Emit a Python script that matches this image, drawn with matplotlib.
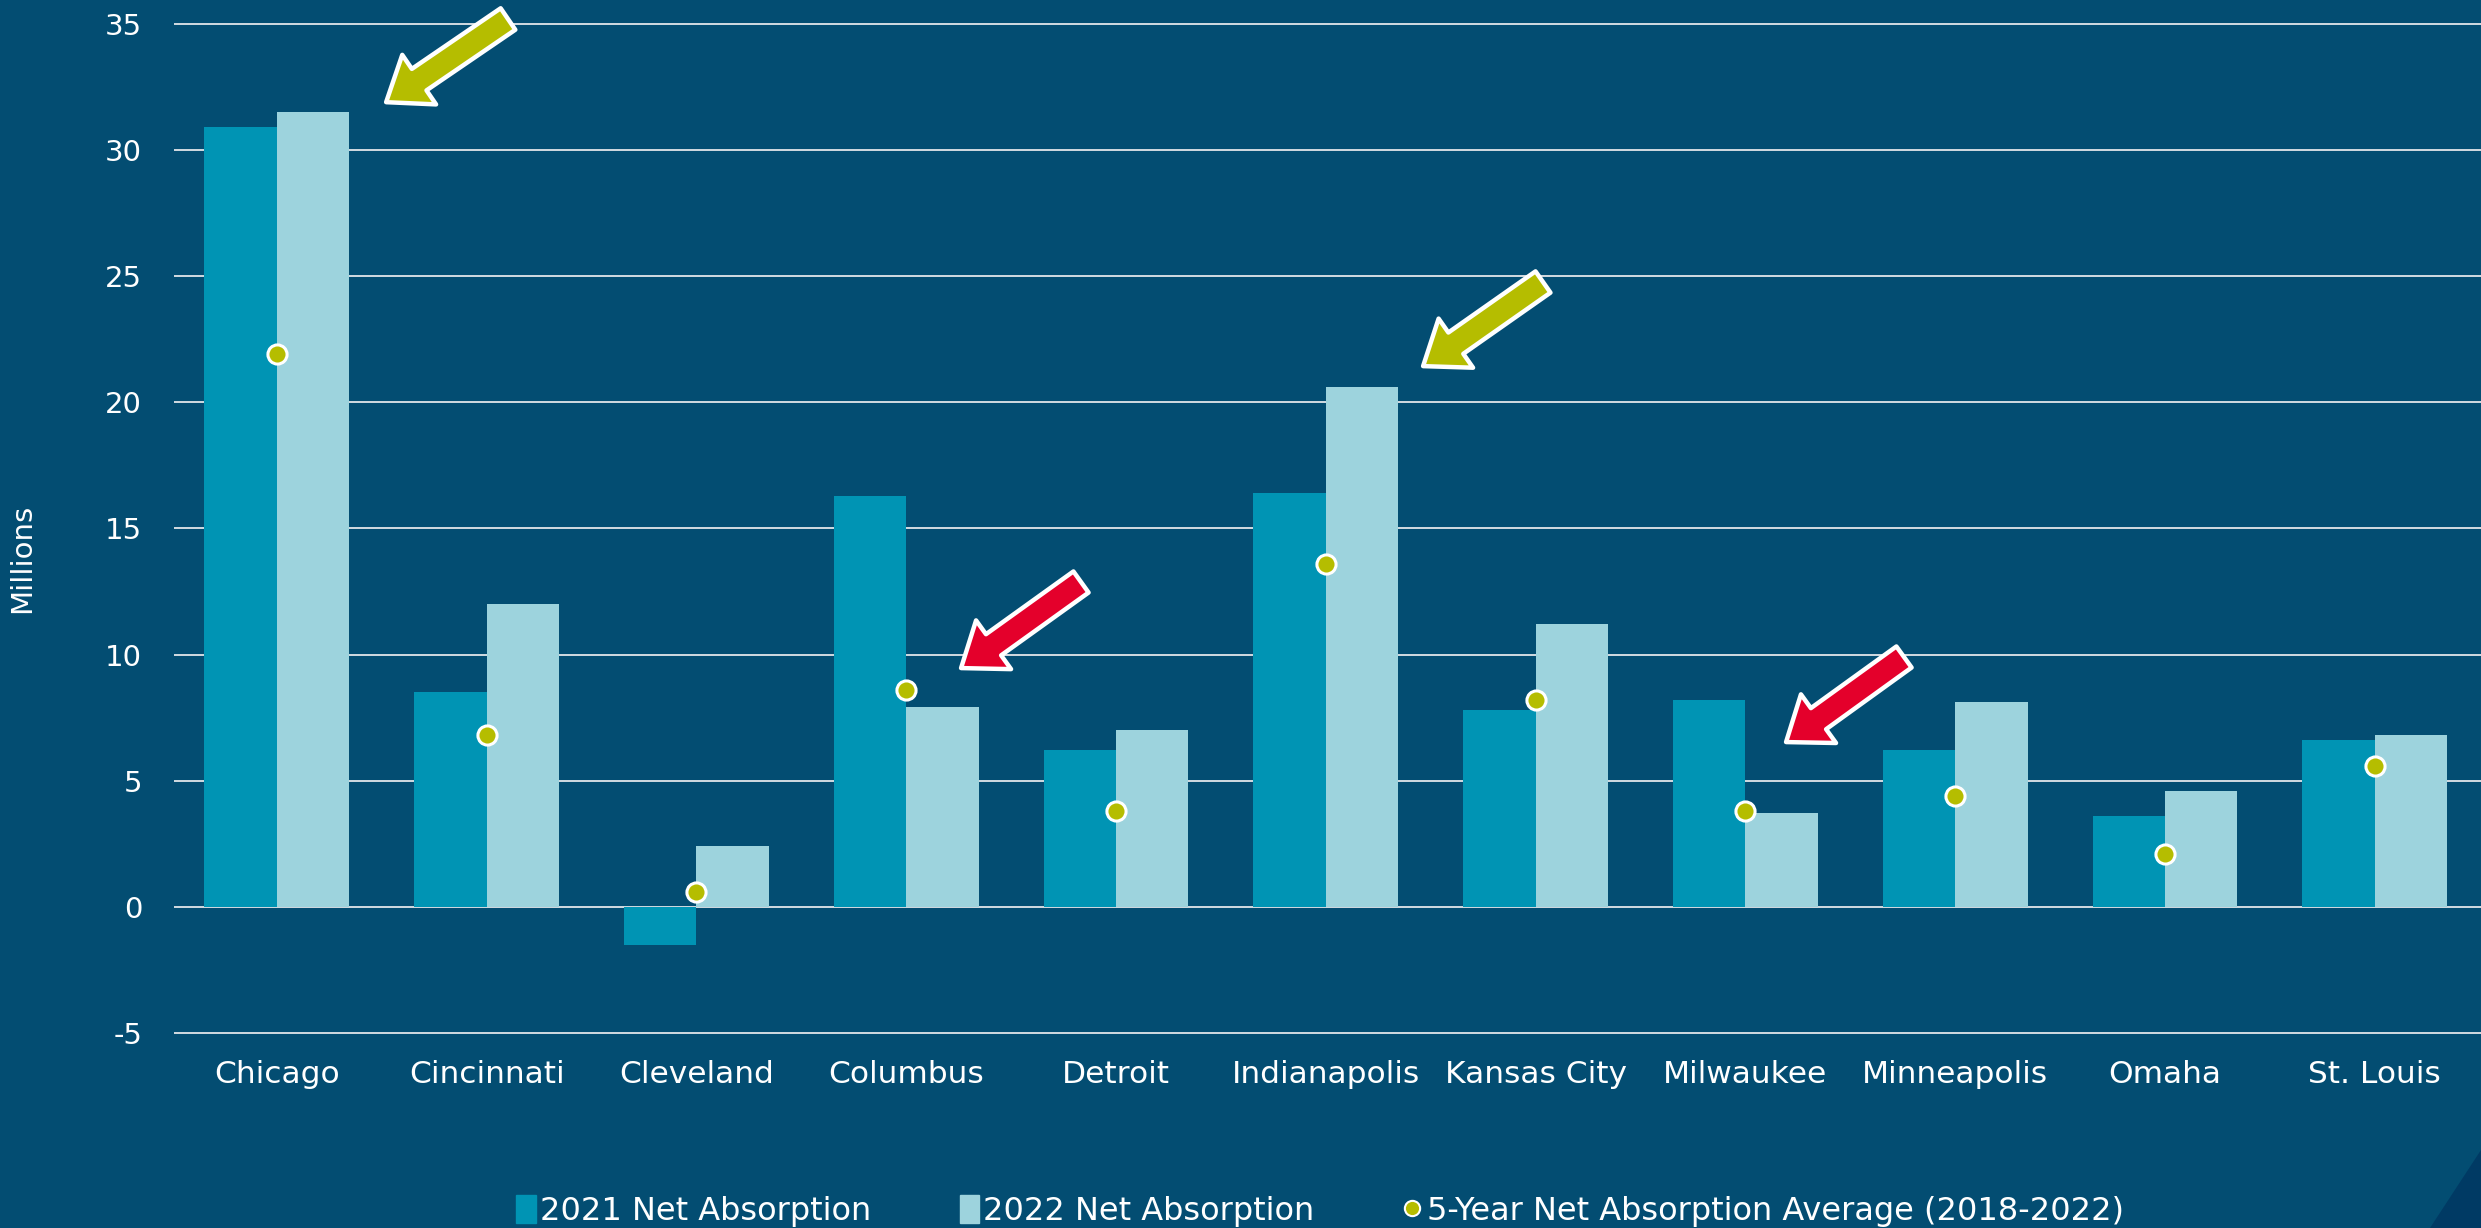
import numpy as np
import matplotlib
matplotlib.use("Agg")
import matplotlib.pyplot as plt
from matplotlib.patches import Polygon, Rectangle
from matplotlib.lines import Line2D
from matplotlib.transforms import IdentityTransform

# Net absorption by market, millions of sq ft
cities = ["Chicago", "Cincinnati", "Cleveland", "Columbus", "Detroit", "Indianapolis",
          "Kansas City", "Milwaukee", "Minneapolis", "Omaha", "St. Louis"]
absorption_2021 = [30.9, 8.5, -1.5, 16.3, 6.2, 16.4, 7.8, 8.2, 6.2, 3.6, 6.6]
absorption_2022 = [31.5, 12.0, 2.4, 7.9, 7.0, 20.6, 11.2, 3.7, 8.1, 4.6, 6.8]
avg_5yr = [21.9, 6.8, 0.6, 8.6, 3.8, 13.6, 8.2, 3.8, 4.4, 2.1, 5.6]
y_ticks = [-5, 0, 5, 10, 15, 20, 25, 30, 35]

BG = "#034d72"
C2021 = "#0094b4"
C2022 = "#9dd3dd"
OLIVE = "#b5bd00"
RED = "#e4002b"
GRID = "#d3dbe2"

W, H = 2481, 1228
fig = plt.figure(figsize=(W / 100, H / 100), dpi=100, facecolor=BG)

# corner accent, bottom right
fig.add_artist(Polygon([(2430 / W, 0), (2481 / W, 0), (2481 / W, 78 / H)],
                       closed=True, transform=fig.transFigure,
                       facecolor="#003a64", edgecolor="none", zorder=0))

ax = fig.add_axes([174 / W, 0.1547, 1 - 174 / W, 0.9848 - 0.1547])
ax.set_facecolor(BG)
x = np.arange(len(cities))
bw = 0.345
ax.bar(x - bw / 2, absorption_2021, bw, color=C2021, zorder=2)
ax.bar(x + bw / 2, absorption_2022, bw, color=C2022, zorder=2)
ax.scatter(x, avg_5yr, s=190, color=OLIVE, edgecolor="white", linewidth=2.2, zorder=4)

ax.set_xlim(-0.49, 10.506)
ax.set_ylim(-5.2, 35.2)
ax.set_yticks(y_ticks)
ax.set_yticklabels([str(v) for v in y_ticks])
ax.set_xticks(x)
ax.set_xticklabels(cities)
ax.yaxis.grid(True, color=GRID, linewidth=1.4, zorder=1)
ax.set_axisbelow(True)
ax.tick_params(axis="y", length=0, pad=23, labelsize=21, labelcolor="white")
ax.tick_params(axis="x", length=0, pad=16, labelsize=22.5, labelcolor="white")
for s in ax.spines.values():
    s.set_visible(False)

fig.text(22 / W, 1 - 558 / H, "Millions", rotation=90, color="white", fontsize=21,
         ha="center", va="center")


def arrow(tip, tail, color):
    # block arrow drawn in pixel space so the shape keeps its proportions
    t = np.array([tip[0], H - tip[1]], float)
    s = np.array([tail[0], H - tail[1]], float)
    u = (t - s) / np.linalg.norm(t - s)
    n = np.array([-u[1], u[0]])
    t = t - u * 5
    w, hw, hl = 13, 30, 40
    base = t - u * hl
    pts = [s + n * w, base + n * w, base + n * hw, t,
           base - n * hw, base - n * w, s - n * w]
    fig.add_artist(Polygon(pts, closed=True, transform=IdentityTransform(),
                           facecolor=color, edgecolor="white", linewidth=3.2,
                           joinstyle="round", zorder=5))


arrow((382, 105), (508, 19), OLIVE)
arrow((1419, 369), (1543, 282), OLIVE)
arrow((957, 671), (1081, 582), RED)
arrow((1782, 745), (1904, 657), RED)

handles = [Rectangle((0, 0), 1, 1, color=C2021),
           Rectangle((0, 0), 1, 1, color=C2022),
           Line2D([], [], marker="o", linestyle="none", markersize=11,
                  markerfacecolor=OLIVE, markeredgecolor="white", markeredgewidth=1.5)]
labels = ["2021 Net Absorption", "2022 Net Absorption",
          "5-Year Net Absorption Average (2018-2022)"]
fig.legend(handles, labels, loc="center", bbox_to_anchor=(1320 / W, 1 - 1211 / H),
           ncol=3, frameon=False, handlelength=0.6, handleheight=1.0, handletextpad=0.15,
           columnspacing=2.75, labelcolor="white", prop={"size": 23})

fig.savefig("out.png", dpi=100, facecolor=BG)
